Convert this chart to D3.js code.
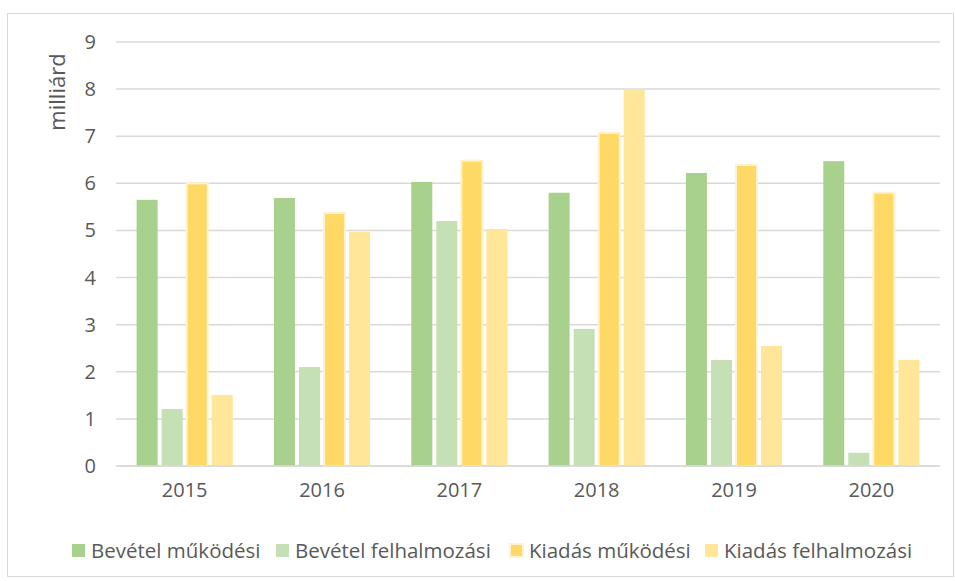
<!DOCTYPE html>
<html lang="hu">
<head>
  <meta charset="UTF-8">
  <title>Bevételek és kiadások</title>
  <script src="https://d3js.org/d3.v7.min.js"></script>
  <style>
    body { margin: 0; background: #fff; }
    text { font-family: "Open Sans", sans-serif; fill: #595959; }
  </style>
</head>
<body>
  <svg width="955" height="581"></svg>

  <script>
    // Data (milliárd)
    var years = ["2015", "2016", "2017", "2018", "2019", "2020"];
    var seriesNames = ["Bevétel működési", "Bevétel felhalmozási", "Kiadás működési", "Kiadás felhalmozási"];
    var bevetelMukodesi    = [5.65, 5.69, 6.03, 5.80, 6.22, 6.47];
    var bevetelFelhalmozasi = [1.21, 2.10, 5.20, 2.91, 2.25, 0.28];
    var kiadasMukodesi     = [6.00, 5.37, 6.48, 7.07, 6.39, 5.80];
    var kiadasFelhalmozasi = [1.51, 4.97, 5.03, 8.00, 2.55, 2.25];
    var yTicks = [0, 1, 2, 3, 4, 5, 6, 7, 8, 9];

    var colors = ["#A9D18E", "#C5E0B4", "#FFD966", "#FFE699"];
    var allSeries = [bevetelMukodesi, bevetelFelhalmozasi, kiadasMukodesi, kiadasFelhalmozasi];

    var svg = d3.select("svg");

    // outer chart border
    svg.append("rect")
        .attr("x", 7.5).attr("y", 13.5)
        .attr("width", 946).attr("height", 563)
        .attr("fill", "none")
        .attr("stroke", "#D9D9D9");

    var x0 = d3.scaleBand().domain(years).range([116, 940]).paddingInner(0.3).paddingOuter(0.15);
    var x1 = d3.scaleBand().domain(d3.range(4)).range([0, x0.bandwidth()]).paddingInner(0.16);
    var y = d3.scaleLinear().domain([0, 9]).range([466, 42]);

    // gridlines
    svg.append("g")
        .selectAll("line")
        .data(yTicks)
        .enter().append("line")
        .attr("x1", 116).attr("x2", 940)
        .attr("y1", d => y(d)).attr("y2", d => y(d))
        .attr("stroke", "#D9D9D9")
        .attr("stroke-width", 1.5);

    // y tick labels
    svg.append("g")
        .selectAll("text")
        .data(yTicks)
        .enter().append("text")
        .attr("x", 96)
        .attr("y", d => y(d))
        .attr("dy", "0.35em")
        .attr("text-anchor", "end")
        .attr("font-size", 20)
        .text(d => d);

    // y axis title
    svg.append("text")
        .attr("transform", "translate(65,92) rotate(-90)")
        .attr("text-anchor", "middle")
        .attr("font-size", 22)
        .text("milliárd");

    // bars
    var groups = svg.append("g")
        .selectAll("g")
        .data(years)
        .enter().append("g")
        .attr("transform", d => "translate(" + x0(d) + ",0)");

    groups.selectAll("rect")
        .data((yr, i) => allSeries.map((s, k) => ({ k: k, v: s[i] })))
        .enter().append("rect")
        .attr("x", d => x1(d.k))
        .attr("width", x1.bandwidth())
        .attr("y", d => y(d.v))
        .attr("height", d => y(0) - y(d.v))
        .attr("fill", d => colors[d.k])
        .attr("stroke", d => d.k === 2 ? "#FFF2CC" : "none")
        .attr("stroke-width", 2);

    // baseline
    svg.append("line")
        .attr("x1", 116).attr("x2", 940)
        .attr("y1", y(0)).attr("y2", y(0))
        .attr("stroke", "#D9D9D9")
        .attr("stroke-width", 1.5);

    // x labels
    svg.append("g")
        .selectAll("text")
        .data(years)
        .enter().append("text")
        .attr("x", d => x0(d) + x0.bandwidth() / 2)
        .attr("y", 497)
        .attr("text-anchor", "middle")
        .attr("font-size", 20)
        .text(d => d);

    // legend
    var legendX = [72, 276, 510, 705];
    var legend = svg.append("g")
        .selectAll("g")
        .data(seriesNames)
        .enter().append("g")
        .attr("transform", (d, i) => "translate(" + legendX[i] + ",544)");

    legend.append("rect")
        .attr("width", 13).attr("height", 13)
        .attr("fill", (d, i) => colors[i])
        .attr("stroke", (d, i) => i === 2 ? "#FFF2CC" : "none")
        .attr("stroke-width", 2);

    legend.append("text")
        .attr("x", 19)
        .attr("y", 6.5)
        .attr("dy", "0.35em")
        .attr("font-size", 20.5)
        .text(d => d);
  </script>
</body>
</html>
